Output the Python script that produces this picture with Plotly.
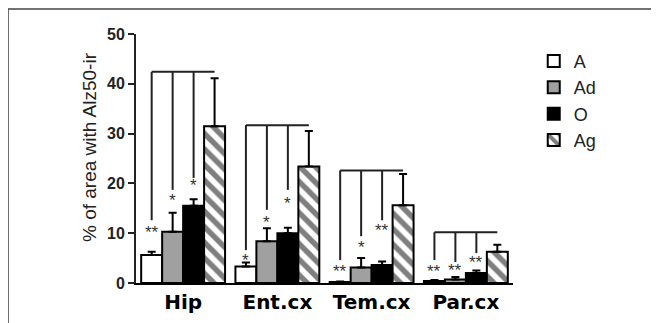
import plotly.graph_objects as go

regions = ["Hip", "Ent.cx", "Tem.cx", "Par.cx"]
groups = ["A", "Ad", "O", "Ag"]

val_A = [5.6, 3.3, 0.2, 0.4]
val_Ad = [10.3, 8.4, 3.1, 0.7]
val_O = [15.5, 10.0, 3.6, 2.0]
val_Ag = [31.5, 23.4, 15.6, 6.3]

err_A = [0.7, 0.8, 0.1, 0.2]
err_Ad = [3.8, 2.6, 1.9, 0.5]
err_O = [1.3, 1.1, 0.7, 0.5]
err_Ag = [9.6, 7.1, 6.3, 1.4]

# significance brackets (vs Ag)
bracket_top = [42.4, 31.7, 22.6, 10.2]
line_end_A = [12.6, 6.6, 4.6, 4.6]
line_end_Ad = [18.7, 14.7, 9.4, 4.2]
line_end_O = [21.1, 18.7, 12.6, 6.0]
star_y_A = [11.0, 5.4, 3.2, 3.2]
star_y_Ad = [17.3, 13.0, 8.0, 3.4]
star_y_O = [20.3, 16.7, 11.4, 5.0]
star_A = ["**", "*", "**", "**"]
star_Ad = ["*", "*", "*", "**"]
star_O = ["*", "*", "**", "**"]

values = [val_A, val_Ad, val_O, val_Ag]
errors = [err_A, err_Ad, err_O, err_Ag]
fills = ["white", "#a0a0a0", "black", "white"]

BARGAP = 0.11
fig = go.Figure()
for k, g in enumerate(groups):
    marker = dict(color=fills[k], line=dict(color="black", width=2))
    if g == "Ag":
        marker["pattern"] = dict(shape="\\", fgcolor="black", bgcolor="white",
                                 size=11, solidity=0.5, fillmode="overlay")
    fig.add_trace(go.Bar(
        name=g, x=regions, y=values[k], marker=marker,
        error_y=dict(type="data", array=errors[k], arrayminus=[0] * len(regions),
                     symmetric=False, color="black", thickness=2, width=4),
    ))

def center(i, k):
    gw = 1 - BARGAP
    return i - gw / 2 + (k + 0.5) * gw / 4

shapes = []
annotations = []
line_ends = [line_end_A, line_end_Ad, line_end_O]
star_ys = [star_y_A, star_y_Ad, star_y_O]
stars = [star_A, star_Ad, star_O]
for i in range(len(regions)):
    shapes.append(dict(type="line", xref="x", yref="y", x0=center(i, 0), x1=center(i, 3),
                       y0=bracket_top[i], y1=bracket_top[i], line=dict(color="#222", width=2)))
    for k in range(3):
        shapes.append(dict(type="line", xref="x", yref="y", x0=center(i, k), x1=center(i, k),
                           y0=line_ends[k][i], y1=bracket_top[i], line=dict(color="#222", width=2)))
        annotations.append(dict(x=center(i, k), y=star_ys[k][i], xref="x", yref="y",
                                text=stars[k][i], showarrow=False, yanchor="middle", yshift=-4,
                                font=dict(family="Liberation Sans", size=17, color="#333")))

# frame around picture
shapes.append(dict(type="rect", xref="paper", yref="paper", x0=-0.3395, x1=1.6,
                   y0=-0.5, y1=1.1004, line=dict(color="#444", width=1.5), layer="below"))

annotations.append(dict(x=-0.1565, y=0.548, xref="paper", yref="paper",
                        text="% of area with Alz50-ir", textangle=-90, showarrow=False,
                        font=dict(family="Liberation Sans", size=19, color="#222")))

fig.update_layout(
    width=651, height=315,
    margin=dict(l=128, r=146, t=26, b=40, autoexpand=False),
    paper_bgcolor="white", plot_bgcolor="white",
    barmode="group", bargap=BARGAP, bargroupgap=0,
    shapes=shapes, annotations=annotations,
    showlegend=True,
    legend=dict(x=1.055, y=0.965, xanchor="left", yanchor="top",
                font=dict(family="Liberation Sans", size=18, color="#222"),
                itemwidth=30, tracegroupgap=0, bgcolor="rgba(0,0,0,0)"),
    xaxis=dict(showline=True, linecolor="black", linewidth=2, ticks="",
               range=[-0.5, 3.5], automargin=False,
               tickfont=dict(family="DejaVu Sans", size=20, color="black", weight="bold"),
               showgrid=False, zeroline=False),
    yaxis=dict(range=[0, 50], tickvals=[0, 10, 20, 30, 40, 50], showline=True,
               linecolor="#222", linewidth=2, ticks="outside", ticklen=6, tickwidth=2,
               tickcolor="#222", automargin=False,
               tickfont=dict(family="Liberation Sans", size=16, color="#222", weight="bold"),
               showgrid=False, zeroline=False),
)

fig.write_html("out.html")
